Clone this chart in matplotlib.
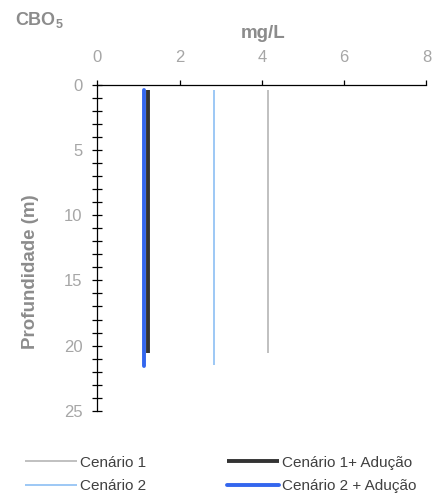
import matplotlib
matplotlib.use("Agg")
import matplotlib.pyplot as plt
from matplotlib.ticker import MultipleLocator

plt.rcParams['font.family'] = ['Liberation Sans', 'DejaVu Sans']
plt.rcParams['mathtext.fontset'] = 'custom'
plt.rcParams['mathtext.rm'] = 'Liberation Sans'
plt.rcParams['mathtext.bf'] = 'Liberation Sans:bold'

# Data
series_names = ["Cenário 1", "Cenário 2", "Cenário 1+ Adução", "Cenário 2 + Adução"]
depth_c1 = [0.4, 5.0, 10.0, 15.0, 20.6]
cbo_c1 = [4.15, 4.15, 4.15, 4.15, 4.15]
depth_c2 = [0.4, 5.0, 10.0, 15.0, 21.5]
cbo_c2 = [2.83, 2.83, 2.83, 2.83, 2.83]
depth_c1a = [0.4, 5.0, 10.0, 15.0, 20.6]
cbo_c1a = [1.22, 1.22, 1.22, 1.22, 1.22]
depth_c2a = [0.4, 5.0, 10.0, 15.0, 21.6]
cbo_c2a = [1.13, 1.13, 1.13, 1.13, 1.13]
x_ticks = [0, 2, 4, 6, 8]
y_ticks = [0, 5, 10, 15, 20, 25]

W, H = 435, 499
fig = plt.figure(figsize=(W / 100, H / 100), dpi=100)
left, right, top, bottom = 97.3, 426.5, 85, 410.7
ax = fig.add_axes([left / W, 1 - bottom / H, (right - left) / W, (bottom - top) / H])

tick_txt = '#a6a6a6'
title_txt = '#8c8c8c'
ax.plot(cbo_c1, depth_c1, color='#c0c0c0', lw=1.4, solid_capstyle='butt', label=series_names[0])
ax.plot(cbo_c2, depth_c2, color='#9dc8f5', lw=1.4, solid_capstyle='butt', label=series_names[1])
ax.plot(cbo_c1a, depth_c1a, color='#333333', lw=2.8, solid_capstyle='butt', label=series_names[2])
ax.plot(cbo_c2a, depth_c2a, color='#3366ee', lw=2.8, solid_capstyle='round', label=series_names[3])

ax.set_xlim(0, 8)
ax.set_ylim(25, 0)
ax.xaxis.tick_top()
ax.set_xticks(x_ticks)
ax.set_yticks(y_ticks)
ax.yaxis.set_minor_locator(MultipleLocator(1))

for s in ['right', 'bottom']:
    ax.spines[s].set_visible(False)
for s in ['left', 'top']:
    ax.spines[s].set_color('black')
    ax.spines[s].set_linewidth(0.9)

ax.tick_params(axis='x', direction='out', length=3.6, width=0.9, color='black',
               labelsize=12, labelcolor=tick_txt, pad=11)
ax.tick_params(axis='y', which='major', direction='inout', length=7, width=0.9,
               color='black', labelsize=12, labelcolor=tick_txt, pad=7)
ax.tick_params(axis='y', which='minor', direction='inout', length=6.5, width=0.9,
               color='black')

fig.text(263 / W, 1 - 33 / H, 'mg/L', ha='center', va='center', fontsize=13.5,
         fontweight='bold', color=title_txt)
fig.text(15 / W, 1 - 20 / H, r'CBO$_\mathbf{5}$', ha='left', va='center', fontsize=13,
         fontweight='bold', color=title_txt)
fig.text(31 / W, 1 - 272 / H, 'Profundidade (m)', ha='center', va='center', rotation=90,
         fontsize=13.5, fontweight='bold', color=title_txt)

handles, labels = ax.get_legend_handles_labels()
leg = fig.legend(handles, labels,
                 loc='center left', bbox_to_anchor=(25 / W, 1 - 474.5 / H), ncol=2,
                 frameon=False, fontsize=11, handlelength=3.4, handletextpad=0.2,
                 columnspacing=5.3, labelspacing=0.62, borderpad=0, borderaxespad=0,
                 labelcolor='#404040')

fig.savefig('out.png', dpi=100)
